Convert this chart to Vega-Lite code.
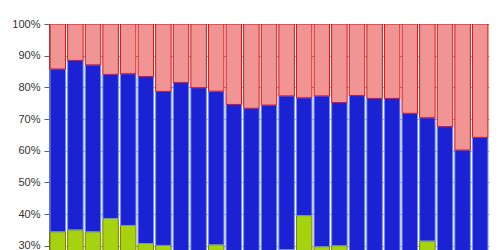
{
  "$schema": "https://vega.github.io/schema/vega-lite/v6.json",
  "width": 440,
  "height": 226,
  "autosize": {"type": "none"},
  "padding": {"left": 49, "top": 24, "right": 11, "bottom": 0},
  "background": "white",
  "data": {
    "values": [
      {"bar": 1, "series": "green", "value": 34.4}, {"bar": 1, "series": "blue", "value": 51.4}, {"bar": 1, "series": "red", "value": 14.2},
      {"bar": 2, "series": "green", "value": 35.0}, {"bar": 2, "series": "blue", "value": 53.5}, {"bar": 2, "series": "red", "value": 11.5},
      {"bar": 3, "series": "green", "value": 34.4}, {"bar": 3, "series": "blue", "value": 52.7}, {"bar": 3, "series": "red", "value": 12.9},
      {"bar": 4, "series": "green", "value": 38.6}, {"bar": 4, "series": "blue", "value": 45.5}, {"bar": 4, "series": "red", "value": 15.9},
      {"bar": 5, "series": "green", "value": 36.4}, {"bar": 5, "series": "blue", "value": 47.9}, {"bar": 5, "series": "red", "value": 15.7},
      {"bar": 6, "series": "green", "value": 30.7}, {"bar": 6, "series": "blue", "value": 52.7}, {"bar": 6, "series": "red", "value": 16.6},
      {"bar": 7, "series": "green", "value": 30.1}, {"bar": 7, "series": "blue", "value": 48.6}, {"bar": 7, "series": "red", "value": 21.3},
      {"bar": 8, "series": "green", "value": 27.0}, {"bar": 8, "series": "blue", "value": 54.5}, {"bar": 8, "series": "red", "value": 18.5},
      {"bar": 9, "series": "green", "value": 26.0}, {"bar": 9, "series": "blue", "value": 53.9}, {"bar": 9, "series": "red", "value": 20.1},
      {"bar": 10, "series": "green", "value": 30.3}, {"bar": 10, "series": "blue", "value": 48.5}, {"bar": 10, "series": "red", "value": 21.2},
      {"bar": 11, "series": "green", "value": 27.0}, {"bar": 11, "series": "blue", "value": 47.6}, {"bar": 11, "series": "red", "value": 25.4},
      {"bar": 12, "series": "green", "value": 26.0}, {"bar": 12, "series": "blue", "value": 47.4}, {"bar": 12, "series": "red", "value": 26.6},
      {"bar": 13, "series": "green", "value": 27.0}, {"bar": 13, "series": "blue", "value": 47.4}, {"bar": 13, "series": "red", "value": 25.6},
      {"bar": 14, "series": "green", "value": 28.8}, {"bar": 14, "series": "blue", "value": 48.5}, {"bar": 14, "series": "red", "value": 22.7},
      {"bar": 15, "series": "green", "value": 39.5}, {"bar": 15, "series": "blue", "value": 37.2}, {"bar": 15, "series": "red", "value": 23.3},
      {"bar": 16, "series": "green", "value": 29.7}, {"bar": 16, "series": "blue", "value": 47.6}, {"bar": 16, "series": "red", "value": 22.7},
      {"bar": 17, "series": "green", "value": 30.0}, {"bar": 17, "series": "blue", "value": 45.2}, {"bar": 17, "series": "red", "value": 24.8},
      {"bar": 18, "series": "green", "value": 27.0}, {"bar": 18, "series": "blue", "value": 50.4}, {"bar": 18, "series": "red", "value": 22.6},
      {"bar": 19, "series": "green", "value": 26.0}, {"bar": 19, "series": "blue", "value": 50.5}, {"bar": 19, "series": "red", "value": 23.5},
      {"bar": 20, "series": "green", "value": 27.0}, {"bar": 20, "series": "blue", "value": 49.5}, {"bar": 20, "series": "red", "value": 23.5},
      {"bar": 21, "series": "green", "value": 26.0}, {"bar": 21, "series": "blue", "value": 45.8}, {"bar": 21, "series": "red", "value": 28.2},
      {"bar": 22, "series": "green", "value": 31.5}, {"bar": 22, "series": "blue", "value": 38.9}, {"bar": 22, "series": "red", "value": 29.6},
      {"bar": 23, "series": "green", "value": 27.0}, {"bar": 23, "series": "blue", "value": 40.6}, {"bar": 23, "series": "red", "value": 32.4},
      {"bar": 24, "series": "green", "value": 25.0}, {"bar": 24, "series": "blue", "value": 35.2}, {"bar": 24, "series": "red", "value": 39.8},
      {"bar": 25, "series": "green", "value": 26.0}, {"bar": 25, "series": "blue", "value": 38.2}, {"bar": 25, "series": "red", "value": 35.8}
    ]
  },
  "transform": [
    {"calculate": "indexof(['green','blue','red'], datum.series)", "as": "ord"}
  ],
  "mark": {"type": "bar", "clip": true, "strokeWidth": 1},
  "encoding": {
    "x": {
      "field": "bar",
      "type": "ordinal",
      "axis": null,
      "scale": {"paddingInner": 0.12, "paddingOuter": 0.06}
    },
    "y": {
      "field": "value",
      "type": "quantitative",
      "stack": "zero",
      "scale": {"domain": [28.64, 100], "nice": false},
      "axis": {
        "title": null,
        "values": [30, 40, 50, 60, 70, 80, 90, 100],
        "labelExpr": "datum.value + '%'",
        "labelFont": "Liberation Sans",
        "labelFontSize": 11,
        "labelColor": "#333333",
        "labelPadding": 4,
        "tickSize": 5,
        "tickColor": "#606060",
        "domainColor": "#606060",
        "grid": true,
        "gridColor": "#a0a0a0",
        "gridWidth": 1
      }
    },
    "color": {
      "field": "series",
      "type": "nominal",
      "scale": {"domain": ["green", "blue", "red"], "range": ["#a6d30f", "#1a22d4", "#f09494"]},
      "legend": null
    },
    "stroke": {
      "field": "series",
      "type": "nominal",
      "scale": {"domain": ["green", "blue", "red"], "range": ["#808000", "#6f8fff", "#dd1010"]},
      "legend": null
    },
    "order": {"field": "ord", "type": "quantitative"}
  },
  "config": {"view": {"stroke": null}}
}
